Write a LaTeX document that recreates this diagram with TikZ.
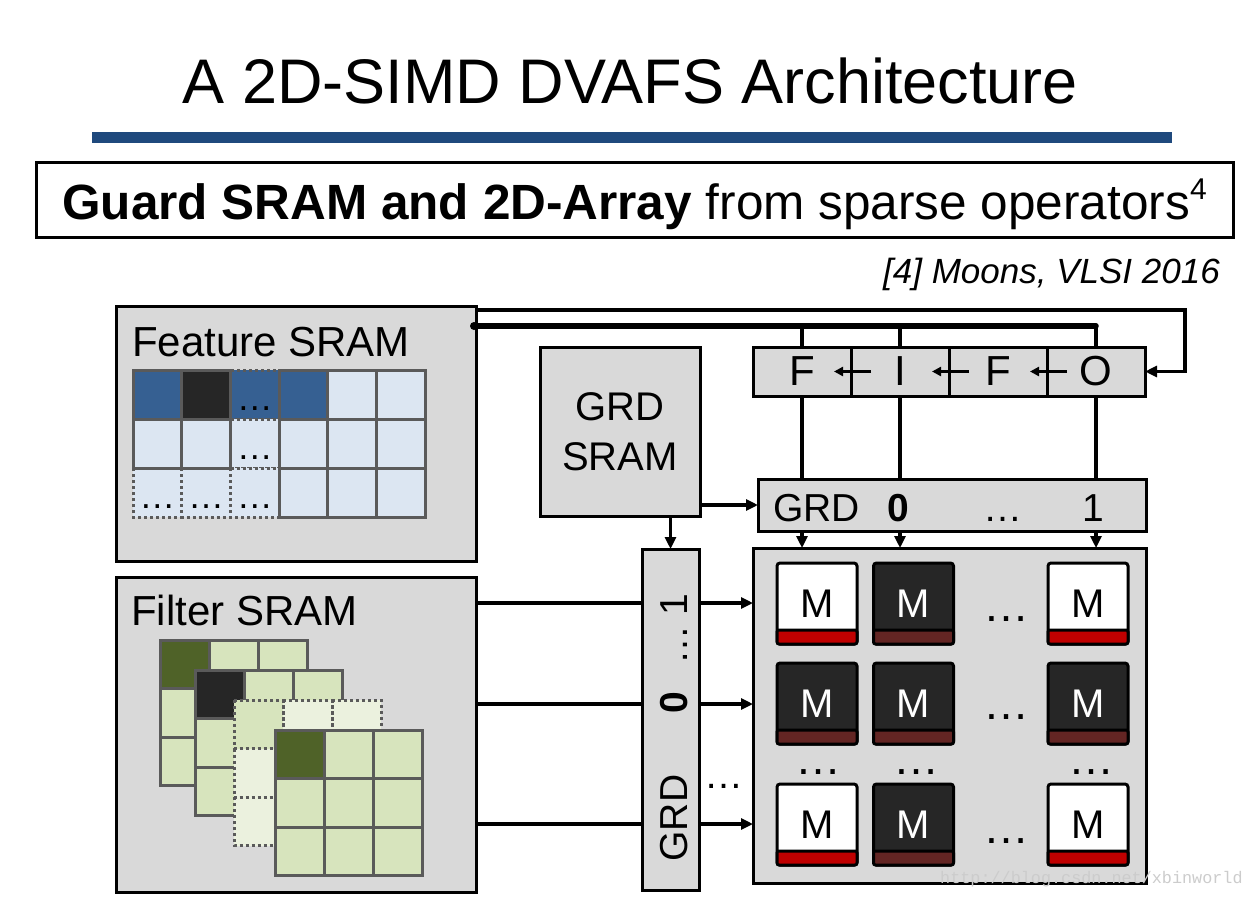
\documentclass[tikz,border=0pt]{standalone}
\usepackage{fontspec}
\setmainfont{Liberation Sans}
\setmonofont{Liberation Mono}
\usetikzlibrary{arrows.meta,positioning}

\definecolor{boxgray}{HTML}{D9D9D9}
\definecolor{gridgray}{HTML}{5A5A5A}
\definecolor{titleblue}{HTML}{1F497D}
\definecolor{fblue}{HTML}{366092}
\definecolor{flight}{HTML}{DCE6F2}
\definecolor{cdark}{HTML}{262626}
\definecolor{gdark}{HTML}{4F6228}
\definecolor{glight}{HTML}{D7E4BD}
\definecolor{gpale}{HTML}{EBF1DE}
\definecolor{mred}{HTML}{C00000}
\definecolor{mdred}{HTML}{632523}

\tikzset{
  txt/.style={inner sep=0pt},
  block/.style={draw, fill=boxgray, line width=3pt, inner sep=0pt, outer sep=0pt},
  conn/.style={line width=3.2pt},
  bus/.style={line width=5.5pt, line cap=round},
  cellline/.style={draw=gridgray, line width=3pt},
  dotcell/.style={draw=gridgray, line width=3pt, dash pattern=on 3pt off 3pt},
  sramlabel/.style={font=\fontsize{42}{48}\selectfont},
  grdtext/.style={font=\fontsize{39}{46}\selectfont},
  celldots/.style={font=\fontsize{36}{40}\selectfont},
  arraydots/.style={font=\fontsize{46}{50}\selectfont},
  fifocell/.style={block, minimum width=98, minimum height=49, sramlabel},
  mcell/.style={draw, line width=3pt, rounded corners=3pt, outer sep=0pt, inner sep=0pt,
    minimum width=80, minimum height=81, font=\fontsize{40}{44}\selectfont},
  mwhite/.style={mcell, fill=white, text=black},
  mblack/.style={mcell, fill=cdark, text=white},
}

\begin{document}
\begin{tikzpicture}[x=1pt, y=-1pt, >={Triangle[length=12pt,width=11pt]}]
\useasboundingbox (0,0) rectangle (1255,899);

% heading
\node[txt, anchor=base, font=\fontsize{63}{70}\selectfont] (title) at (630.5,103) {A 2D-SIMD DVAFS Architecture};
\fill[titleblue] (92,132) rectangle (1172,143);
\node[draw, line width=3pt, inner sep=0pt, minimum width=1197, minimum height=75, text depth=0pt,
  font=\fontsize{49.5}{56}\selectfont] (claim) at (634.5,199.5)
  {\textbf{Guard SRAM and 2D-Array} from sparse operators{\fontsize{30}{32}\selectfont\raisebox{20pt}{4}}};
\node[txt, anchor=base east, font=\fontsize{35}{40}\selectfont\itshape] (cite) at (1220,283) {[4] Moons, VLSI 2016};

% feature SRAM
\node[block, anchor=north west, minimum width=360, minimum height=255] (feat) at (116,306) {};
\node[txt, sramlabel, anchor=base west] (featlbl) at (132,356) {Feature SRAM};
\foreach \i/\j/\c in {2/0/fblue,2/1/flight,0/2/flight,1/2/flight,2/2/flight}
{
  \draw[dotcell, fill=\c] (133+\i*48.7,370+\j*49) rectangle ++(48.7,49);
  \node[txt, celldots, anchor=base] at (157.35+\i*48.7,410+\j*49) {…};
}
\foreach \i/\j/\c in {0/0/fblue,1/0/cdark,3/0/fblue,4/0/flight,5/0/flight,0/1/flight,1/1/flight,
  3/1/flight,4/1/flight,5/1/flight,3/2/flight,4/2/flight,5/2/flight}
  \draw[cellline, fill=\c] (133+\i*48.7,370+\j*49) rectangle ++(48.7,49);

% filter SRAM
\node[block, anchor=north west, minimum width=360, minimum height=315] (filt) at (116,577) {};
\node[txt, sramlabel, anchor=base west] (filtlbl) at (131,625) {Filter SRAM};
\foreach \ox/\oy/\tl/\bg/\s in {160/640/gdark/glight/cellline, 195/670/cdark/glight/cellline,
  234/700/glight/gpale/dotcell, 275/730/gdark/glight/cellline}
{
  \fill[\bg] (\ox,\oy) rectangle ++(147,145.5);
  \fill[\tl] (\ox,\oy) rectangle ++(49,48.5);
  \foreach \i in {0,1,2}
    \foreach \j in {0,1,2}
      \draw[\s] (\ox+\i*49,\oy+\j*48.5) rectangle ++(49,48.5);
}

% guard SRAM and FIFO
\node[block, minimum width=160, minimum height=169, align=center, font=\fontsize{40}{50}\selectfont] (gsram) at (620,431.5) {GRD\\SRAM};
\node[fifocell] (f1) at (802,371.5) {F};
\node[fifocell, right=0pt of f1] (f2) {I};
\node[fifocell, right=0pt of f2] (f3) {F};
\node[fifocell, right=0pt of f3] (f4) {O};
\foreach \a/\b in {f1/f2,f2/f3,f3/f4}
  \draw[conn, -{Triangle[length=9pt,width=9pt]}] ([xshift=20pt]\a.east) -- ([xshift=-17pt]\a.east);

% guard row and column
\node[block, minimum width=388, minimum height=52] (grdrow) at (952,505) {};
\node[txt, grdtext, anchor=base west] (rowlbl) at (773,521) {GRD};
\node[txt, grdtext, anchor=base] (row0) at (898,521) {\textbf{0}};
\node[txt, grdtext, anchor=base] (rowdots) at (1003,521) {…};
\node[txt, grdtext, anchor=base] (row1) at (1093,521) {1};

\node[block, minimum width=57, minimum height=341] (gcol) at (670.5,719.5) {};
\node[txt, grdtext, rotate=90, anchor=base] (collbl) at (687,818) {GRD};
\node[txt, grdtext, rotate=90, anchor=base] (col0) at (687,703) {\textbf{0}};
\node[txt, grdtext, rotate=90, anchor=base] (coldots) at (687,645) {…};
\node[txt, grdtext, rotate=90, anchor=base] (col1) at (687,605) {1};

% 2D array of multipliers
\node[block, minimum width=393, minimum height=335] (array) at (949.5,715.5) {};
\foreach \x/\y/\t/\b [count=\n] in {817/603.5/mwhite/mred, 913.5/603.5/mblack/mdred, 1088/603.5/mwhite/mred,
  817/703.5/mblack/mdred, 913.5/703.5/mblack/mdred, 1088/703.5/mblack/mdred,
  817/824.5/mwhite/mred, 913.5/824.5/mblack/mdred, 1088/824.5/mwhite/mred}
{
  \node[\t] (m\n) at (\x,\y) {M};
  \draw[line width=3pt, fill=\b, rounded corners=2pt] ([yshift=14pt]m\n.south west) rectangle (m\n.south east);
}
\foreach \y in {621.5,719.5,843.5}
  \node[txt, arraydots, anchor=base] at (1006,\y) {…};
\foreach \x in {818,916,1091}
  \node[txt, arraydots, anchor=base] at (\x,774.5) {…};
\node[txt, grdtext, anchor=base] (gapdots) at (724,788) {…};

% connections
\coordinate (busL) at (474,326);
\draw[bus] (busL) -- (busL -| f4.north);
\fill (busL) circle (4);
\coordinate (loop) at (1185,371.5);
\draw[conn, ->] ([yshift=-4pt]feat.north east) -| (loop) -- (f4.east);
\foreach \f in {f1,f2,f4}
{
  \draw[conn] (busL -| \f.north) -- (\f.north);
  \draw[conn] (\f.south) -- (grdrow.north -| \f.south);
  \draw[conn, ->] (grdrow.south -| \f.south) -- (array.north -| \f.south);
}
\draw[conn, ->] (gsram.east |- grdrow.west) -- (grdrow.west);
\draw[conn, ->] (gsram.south -| gcol.north) -- (gcol.north);
\foreach \y [count=\r] in {603,704,824}
{
  \coordinate (r\r) at (0,\y);
  \draw[conn] (filt.east |- r\r) -- (gcol.west |- r\r);
  \draw[conn, ->] (gcol.east |- r\r) -- (array.west |- r\r);
}

% watermark
\node[txt, anchor=base west, font=\ttfamily\fontsize{16.8}{18}\selectfont, text=black!20] (wm) at (940,883) {http://blog.csdn.net/xbinworld};
\end{tikzpicture}
\end{document}
